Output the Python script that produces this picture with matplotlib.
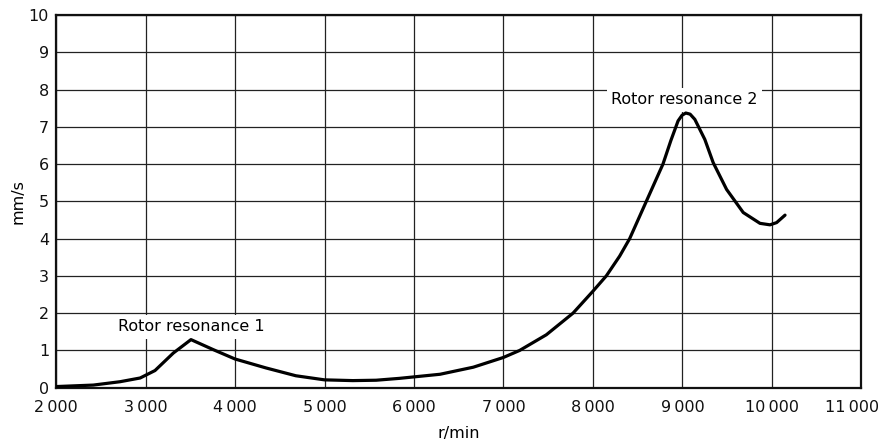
import matplotlib
matplotlib.use('Agg')
import matplotlib.pyplot as plt
import matplotlib.transforms as mtransforms
from matplotlib.ticker import FixedLocator

# speed (r/min) and vibration velocity (mm/s)
speed = [2000, 2417, 2715, 2940, 3106, 3311, 3508, 3758, 4000, 4346, 4680,
         5000, 5316, 5577, 5836, 6291, 6663, 6998, 7181, 7479, 7777, 8000, 8149,
         8298, 8410, 8596, 8782, 8870, 8951, 8995, 9037, 9085, 9138, 9250, 9343,
         9493, 9679, 9866, 9978, 10052, 10146]
velocity = [0.03, 0.07, 0.16, 0.26, 0.46, 0.93, 1.29, 1.02, 0.77, 0.53, 0.32,
            0.21, 0.19, 0.20, 0.25, 0.36, 0.55, 0.81, 1.00, 1.42, 2.00, 2.59, 3.00,
            3.53, 4.00, 5.00, 6.00, 6.63, 7.16, 7.31, 7.37, 7.34, 7.20, 6.66, 6.04,
            5.32, 4.70, 4.41, 4.37, 4.43, 4.63]

x_ticks = [2000, 3000, 4000, 5000, 6000, 7000, 8000, 9000, 10000, 11000]
x_tick_labels = ['2\u2009000', '3\u2009000', '4\u2009000', '5\u2009000', '6\u2009000',
                 '7\u2009000', '8\u2009000', '9\u2009000', '10\u2009000', '11\u2009000']
y_ticks = [0, 1, 2, 3, 4, 5, 6, 7, 8, 9, 10]

notes = ['Rotor resonance 1', 'Rotor resonance 2']
note_x = [2693, 8201]
note_y = [1.63, 7.72]

plt.rcParams['font.family'] = ['DejaVu Sans']

fig = plt.figure(figsize=(8.85, 4.47), dpi=100)
ax = fig.add_axes([0.0633, 0.1327, 0.9101, 0.8337])

ax.plot(speed, velocity, color='black', lw=2.3, zorder=3,
        solid_capstyle='round', solid_joinstyle='round')

ax.set_xlim(2000, 11000)
ax.set_ylim(0, 10)
ax.xaxis.set_major_locator(FixedLocator(x_ticks))
ax.set_xticklabels(x_tick_labels)
ax.yaxis.set_major_locator(FixedLocator(y_ticks))
ax.tick_params(axis='both', length=0, labelsize=11.5, colors='#111111')
ax.tick_params(axis='x', pad=9)
ax.tick_params(axis='y', pad=5)

# last x label sits a little to the left so it stays inside the figure
last = ax.get_xticklabels()[-1]
last.set_transform(last.get_transform() +
                   mtransforms.ScaledTranslation(-9 / 100, 0, fig.dpi_scale_trans))

ax.grid(True, color='#222222', lw=0.9)
ax.set_axisbelow(True)
for s in ax.spines.values():
    s.set_linewidth(1.6)
    s.set_color('#111111')

for t, x, y in zip(notes, note_x, note_y):
    ax.text(x, y, t, ha='left', va='center', fontsize=11.5, zorder=2,
            bbox=dict(facecolor='white', edgecolor='none', pad=3))

ax.set_xlabel('r/min', fontsize=11.5, labelpad=8)
ax.set_ylabel('mm/s', fontsize=11.5, labelpad=2)

fig.savefig('out.png', dpi=100)
